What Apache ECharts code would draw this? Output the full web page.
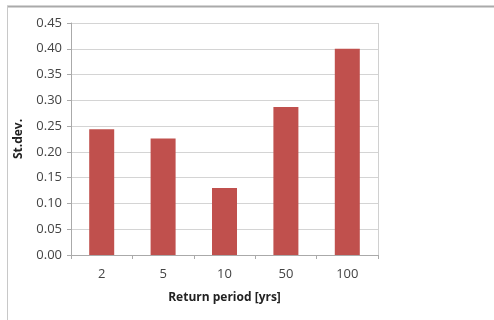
<!DOCTYPE html>
<html>
<head>
<meta charset="utf-8">
<script src="https://cdn.jsdelivr.net/npm/echarts@6/dist/echarts.min.js"></script>
<style>
  html, body { margin: 0; padding: 0; background: #fff; }
  #chart { width: 494px; height: 320px; }
</style>
</head>
<body>
<div id="chart"></div>
<script>
// return periods and st.dev.
var periods = ['2', '5', '10', '50', '100'];
var stdev = [0.244, 0.226, 0.130, 0.287, 0.400];
var yTicks = [0, 0.45, 0.05];   // min, max, step

var chart = echarts.init(document.getElementById('chart'));
var font = 'Open Sans, Liberation Sans, sans-serif';

var option = {
  animation: false,
  backgroundColor: '#fff',
  graphic: [
    // outer frame: top and left edges only
    { type: 'line', shape: { x1: 7, y1: 6.5, x2: 494, y2: 6.5 }, style: { stroke: '#aaa', lineWidth: 2 } },
    { type: 'line', shape: { x1: 7.5, y1: 6, x2: 7.5, y2: 320 }, style: { stroke: '#c8c8c8', lineWidth: 1 } },
    // plot-area right border
    { type: 'line', shape: { x1: 378.5, y1: 23, x2: 378.5, y2: 255 }, style: { stroke: '#d0d0d0', lineWidth: 1 } }
  ],
  grid: { left: 71, right: 116, top: 23, bottom: 65 },
  xAxis: {
    type: 'category',
    data: periods,
    name: 'Return period [yrs]',
    nameLocation: 'middle',
    nameGap: 37,
    nameTextStyle: { fontFamily: font, fontWeight: 'bold', fontSize: 12, color: '#222' },
    axisLine: { lineStyle: { color: '#aaa' } },
    axisTick: { show: true, length: 4, lineStyle: { color: '#aaa' } },
    axisLabel: { fontFamily: font, fontSize: 13, color: '#444', margin: 13 }
  },
  yAxis: {
    type: 'value',
    min: yTicks[0],
    max: yTicks[1],
    interval: yTicks[2],
    name: 'St.dev.',
    nameLocation: 'middle',
    nameGap: 46,
    nameTextStyle: { fontFamily: font, fontWeight: 'bold', fontSize: 12, color: '#222' },
    axisLine: { show: true, lineStyle: { color: '#aaa' } },
    axisTick: { show: true, length: 4, lineStyle: { color: '#aaa' } },
    axisLabel: {
      fontFamily: font, fontSize: 13, color: '#444', margin: 9,
      formatter: function (v) { return v.toFixed(2); }
    },
    splitLine: { lineStyle: { color: '#d4d4d4' } }
  },
  series: [{
    type: 'bar',
    data: stdev,
    barWidth: 25,
    itemStyle: { color: '#c0504d' }
  }]
};

chart.setOption(option);
</script>
</body>
</html>
